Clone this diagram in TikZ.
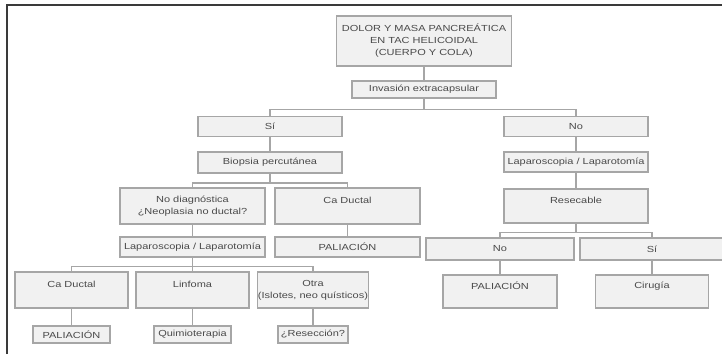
\documentclass[tikz,border=0pt]{standalone}
\usepackage{fontspec}
\setmainfont{Liberation Sans}[FakeStretch=1.25]
\definecolor{boxfill}{HTML}{F1F1F1}
\definecolor{boxline}{HTML}{A6A6A6}
\definecolor{txtgray}{HTML}{4A4A4A}
\definecolor{frameline}{HTML}{3A3A3A}

\begin{document}
\begin{tikzpicture}[
  x=0.75pt, y=-0.75pt,
  box/.style={rectangle, draw=boxline, fill=boxfill, line width=0.8pt, align=center, inner xsep=0.5pt, inner ysep=1pt, text=txtgray, font=\fontsize{6.6}{9}\selectfont},
  wbox/.style={box, minimum width=108pt, minimum height=15pt},
  mbox/.style={box, minimum width=108.75pt, minimum height=27pt},
  lbox/.style={box, minimum width=84.75pt, minimum height=27pt},
  leaf/.style={box, minimum width=57.75pt, minimum height=12.75pt},
  line/.style={draw=boxline, line width=0.9pt},
]
  \useasboundingbox (0,0) rectangle (722,354);
  \fill[white] (0,0) rectangle (722,354);
  \draw[frameline, line width=1pt] (7,354) -- (7,5) -- (722,5);

  % ── Top ────────────────────────────────────
  \node[box, minimum width=131.25pt, minimum height=37.5pt] (dolor) at (424,41) {DOLOR Y MASA PANCREÁTICA\\EN TAC HELICOIDAL\\(CUERPO Y COLA)};
  \node[wbox, minimum height=12.75pt] (invasion) at (424,89.5) {Invasión extracapsular};

  % ── Left branch ────────────────────────────
  \node[wbox] (si) at (270,126.5) {Sí};
  \node[wbox, minimum height=15.75pt] (biopsia) at (270,162.5) {Biopsia percutánea};
  \node[mbox] (nodiag) at (192.5,206) {No diagnóstica\\¿Neoplasia no ductal?};
  \node[mbox] (caductal) at (347.5,206) {Ca Ductal\\~};
  \node[mbox, minimum height=15pt] (lapl) at (192.5,247) {Laparoscopia / Laparotomía};
  \node[mbox, minimum height=15pt] (paliaciona) at (347.5,247) {PALIACIÓN};

  \node[lbox] (caductalb) at (71.5,290) {Ca Ductal\\~};
  \node[lbox] (linfoma) at (192.5,290) {Linfoma\\~};
  \node[lbox, minimum width=82.5pt] (otra) at (313,290) {Otra\\(Islotes, neo quísticos)};
  \node[leaf] (paliacionb) at (71.5,334.5) {PALIACIÓN};
  \node[leaf] (quimio) at (192.5,334.5) {Quimioterapia};
  \node[leaf, minimum width=52.5pt] (reseccion) at (313,334.5) {¿Resección?};

  % ── Right branch ───────────────────────────
  \node[wbox] (no) at (576,126.5) {No};
  \node[wbox] (lapr) at (576,162) {Laparoscopia / Laparotomía};
  \node[wbox, minimum height=25.5pt] (resecable) at (576,206) {Resecable\\~};
  \node[wbox, minimum width=111pt, minimum height=16.5pt] (nob) at (500,249) {No};
  \node[wbox, minimum height=16.5pt] (sib) at (652,249) {Sí};
  \node[lbox, minimum width=85.5pt, minimum height=24.75pt] (paliacionc) at (500,291.5) {PALIACIÓN\\~};
  \node[lbox, minimum height=24.75pt] (cirugia) at (652,291.5) {Cirugía\\~};

  % ── Connections ────────────────────────────
  \draw[line] (dolor) -- (invasion);
  \draw[line] (invasion.south) -- ++(0,11) -| (si.north);
  \draw[line] (invasion.south) -- ++(0,11) -| (no.north);
  \draw[line] (si) -- (biopsia);
  \draw[line] (biopsia.south) -- ++(0,9.5) -| (nodiag.north);
  \draw[line] (biopsia.south) -- ++(0,9.5) -| (caductal.north);
  \draw[line] (nodiag) -- (lapl);
  \draw[line] (caductal) -- (paliaciona);
  \draw[line] (lapl.south) -- ++(0,9) -| (caductalb.north);
  \draw[line] (lapl.south) -- ++(0,9) -| (otra.north);
  \draw[line] (lapl) -- (linfoma);
  \draw[line] (caductalb) -- (paliacionb);
  \draw[line] (linfoma) -- (quimio);
  \draw[line] (otra) -- (reseccion);
  \draw[line] (no) -- (lapr);
  \draw[line] (lapr) -- (resecable);
  \draw[line] (resecable.south) -- ++(0,9) -| (nob.north);
  \draw[line] (resecable.south) -- ++(0,9) -| (sib.north);
  \draw[line] (nob) -- (paliacionc);
  \draw[line] (sib) -- (cirugia);

\end{tikzpicture}
\end{document}
